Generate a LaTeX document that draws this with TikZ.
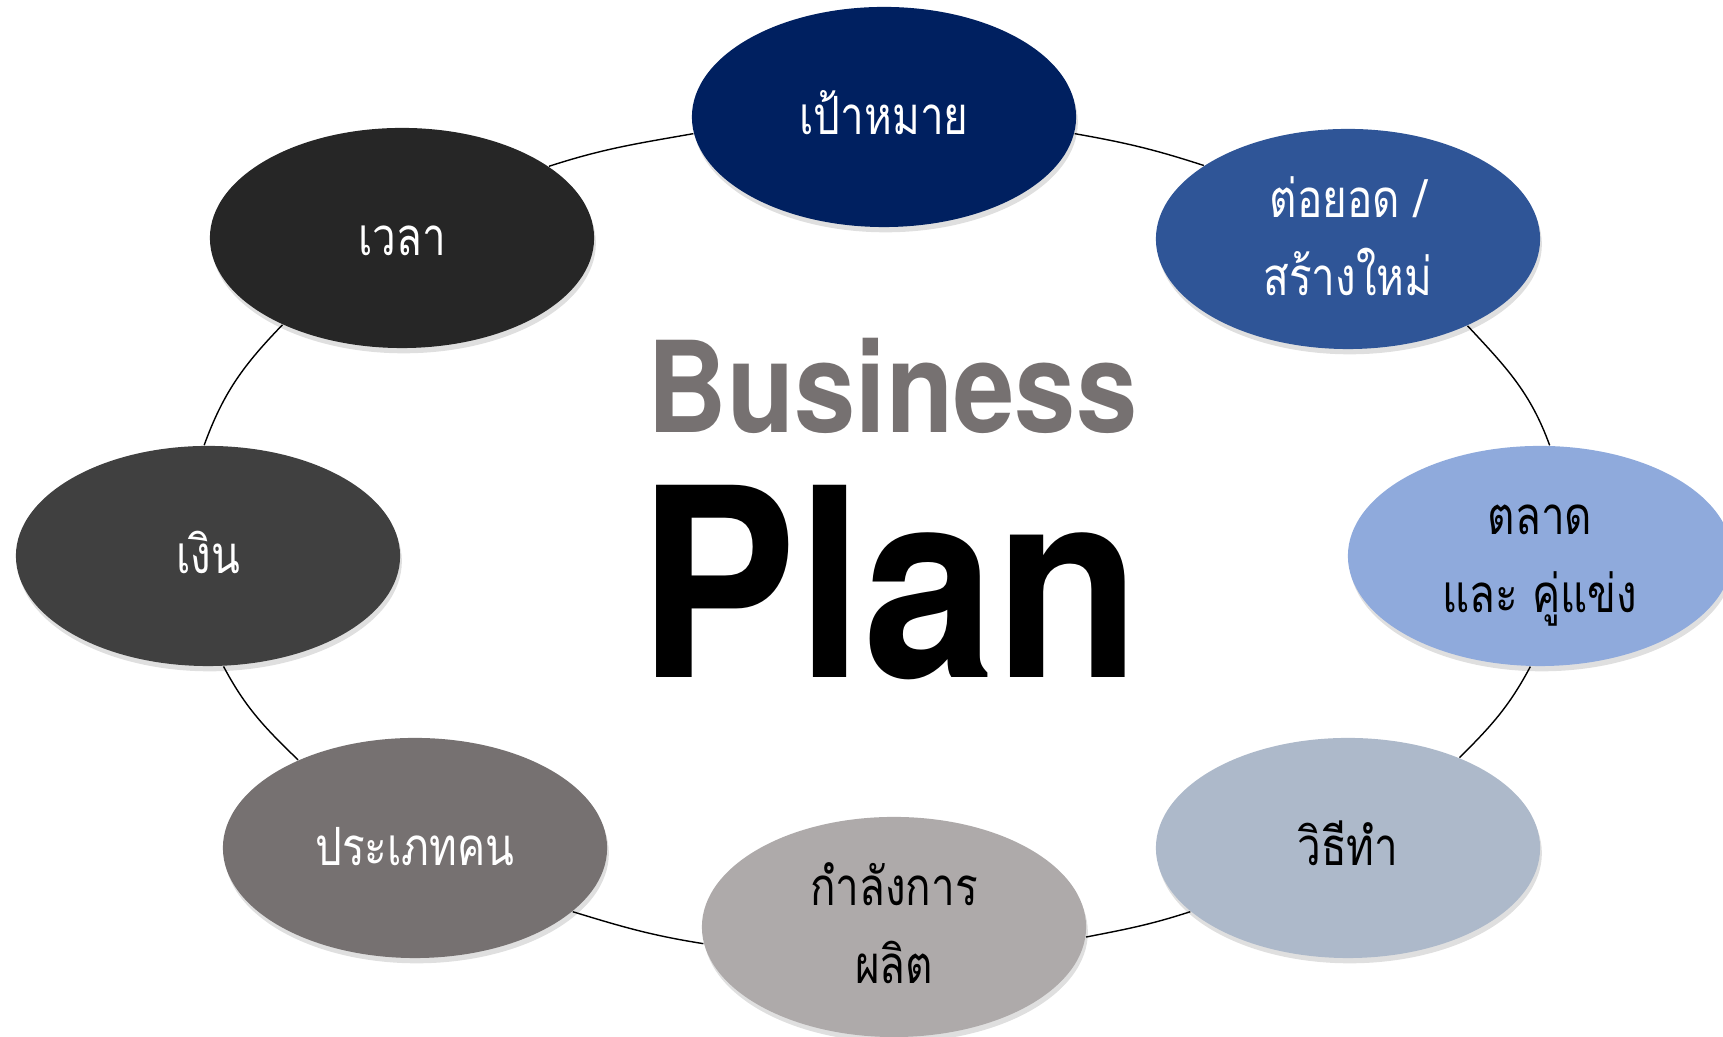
\documentclass[tikz,border=0pt]{standalone}
\usepackage{fontspec}
\usepackage{graphicx}
\setmainfont{TeX Gyre Heros}
\newfontfamily\thaifont[Script=Thai, FakeStretch=0.8]{Loma}
\usetikzlibrary{shapes.geometric,shadows}

\definecolor{goalblue}{HTML}{002060}
\definecolor{extendblue}{HTML}{2F5597}
\definecolor{marketblue}{HTML}{8FAADC}
\definecolor{methodgray}{HTML}{ADB9CA}
\definecolor{prodgray}{HTML}{AEAAAA}
\definecolor{peoplegray}{HTML}{767171}
\definecolor{moneygray}{HTML}{404040}
\definecolor{timeblack}{HTML}{262626}
\definecolor{titlegray}{HTML}{767171}

% keeps Thai lines centred whatever marks they carry
\newcommand\topicstrut{\rule[-5.5pt]{0pt}{21pt}}

\tikzset{
  topic/.style={ellipse, minimum width=3.84cm, minimum height=2.2cm,
    inner sep=0pt, align=center,
    font=\thaifont\fontsize{15}{22}\selectfont,
    execute at begin node=\topicstrut,
    drop shadow={shadow xshift=.5pt, shadow yshift=-1.5pt, opacity=.25}},
  dark/.style={topic, fill=#1, text=white},
  light/.style={topic, fill=#1, text=black},
  link/.style={draw=black, line width=.4pt},
}

\begin{document}
\begin{tikzpicture}[x=0.01cm, y=0.01cm]
  \useasboundingbox (0,0) rectangle (1723,1037);

  % the eight topics around the plan
  \node[dark=goalblue]    (goal)       at (884,920)  {เป้าหมาย};
  \node[dark=extendblue]  (extend)     at (1348,798)
        {\topicstrut ต่อยอด /\\\topicstrut สร้างใหม่};
  \node[light=marketblue] (market)     at (1540,481)
        {\topicstrut ตลาด\\\topicstrut และ คู่แข่ง};
  \node[light=methodgray] (method)     at (1348,189) {วิธีทำ};
  \node[light=prodgray]   (production) at (894,110)
        {\topicstrut กำลังการ\\\topicstrut ผลิต};
  \node[dark=peoplegray]  (people)     at (415,189)  {ประเภทคน};
  \node[dark=moneygray]   (money)      at (208,481)  {เงิน};
  \node[dark=timeblack]   (time)       at (402,799)  {เวลา};

  % title in the middle
  \node[anchor=base west, inner sep=0pt, text=titlegray,
        font=\bfseries\fontsize{36}{36}\selectfont]
        (business) at (647,604) {\scalebox{0.87}[1]{Business}};
  \node[anchor=base west, inner sep=0pt,
        font=\bfseries\fontsize{75}{75}\selectfont]
        (plan) at (638,359) {\scalebox{0.90}[1]{Plan}};

  % ring through the topics
  \draw[link] (goal.-5)        to[out=-10,  in=162] (extend.153);
  \draw[link] (extend.-36)     to[out=-47,  in=110] (market.85);
  \draw[link] (market.-95)     to[out=-118, in=45]  (method.39);
  \draw[link] (method.202)     to[out=198,  in=11]  (production.-3);
  \draw[link] (production.185) to[out=171,  in=-17] (people.-22);
  \draw[link] (people.143)     to[out=136,  in=-62] (money.-82);
  \draw[link] (money.92)       to[out=70,   in=226] (time.216);
  \draw[link] (time.26)        to[out=18,   in=190] (goal.185);
\end{tikzpicture}
\end{document}
